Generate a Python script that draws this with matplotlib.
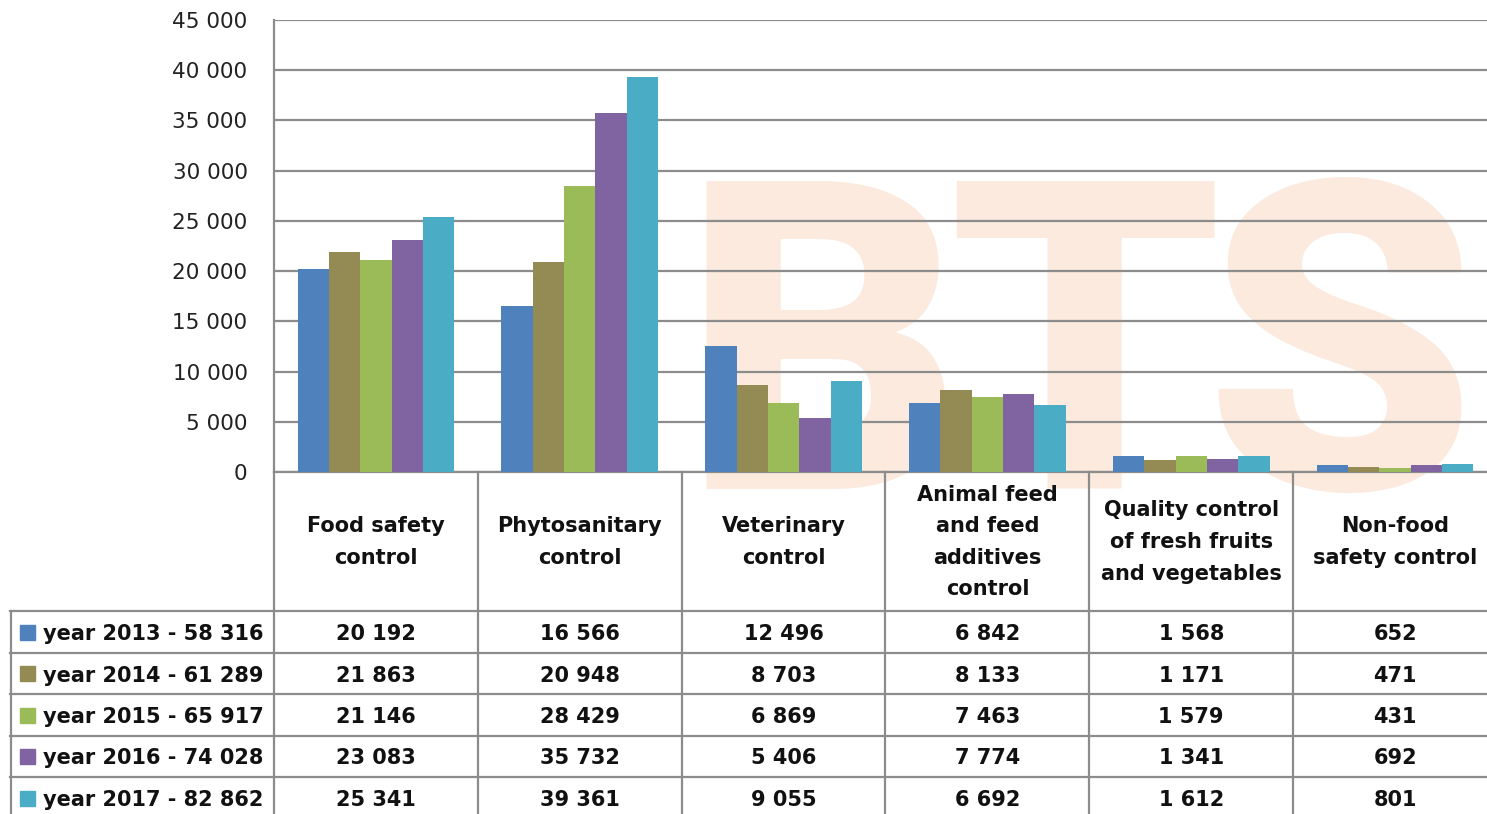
import matplotlib
matplotlib.use("Agg")
import matplotlib.pyplot as plt
from matplotlib.transforms import blended_transform_factory
from matplotlib.patches import Rectangle
from matplotlib.lines import Line2D

categories = ["Food safety\ncontrol", "Phytosanitary\ncontrol", "Veterinary\ncontrol",
              "Animal feed\nand feed\nadditives\ncontrol",
              "Quality control\nof fresh fruits\nand vegetables", "Non-food\nsafety control"]
series_labels = ["year 2013 - 58 316", "year 2014 - 61 289", "year 2015 - 65 917",
                 "year 2016 - 74 028", "year 2017 - 82 862"]
y2013 = [20192, 16566, 12496, 6842, 1568, 652]
y2014 = [21863, 20948, 8703, 8133, 1171, 471]
y2015 = [21146, 28429, 6869, 7463, 1579, 431]
y2016 = [23083, 35732, 5406, 7774, 1341, 692]
y2017 = [25341, 39361, 9055, 6692, 1612, 801]
series = [y2013, y2014, y2015, y2016, y2017]
colors = ["#4F81BD", "#948A54", "#9BBB59", "#8064A2", "#4BACC6"]
yticks = [0, 5000, 10000, 15000, 20000, 25000, 30000, 35000, 40000, 45000]
watermark = ["B", "T", "S"]

W, H = 1487, 814
fig = plt.figure(figsize=(W / 100, H / 100), dpi=100)
fig.patch.set_facecolor("white")

def fx(x):
    return x / W

def fy(y):
    return 1 - y / H

# watermark, one letter at a time
for letter, xc in zip(watermark, [822, 1085, 1340]):
    fig.text(fx(xc), fy(489), letter, fontsize=312, fontweight="black",
             family=["Roboto", "DejaVu Sans"], color="#FBEADD",
             ha="center", va="baseline", zorder=-5)

ax_left, ax_right, ax_top, ax_bot = 274, 1497, 20, 472
ax = fig.add_axes([fx(ax_left), fy(ax_bot), (ax_right - ax_left) / W, (ax_bot - ax_top) / H])
ax.set_facecolor("none")
grid_c = "#8C8C8C"

n = len(series)
w = 1 / 6.5
x = list(range(len(categories)))
for i, (vals, c) in enumerate(zip(series, colors)):
    ax.bar([xi + (i - (n - 1) / 2) * w for xi in x], vals, width=w, color=c,
           edgecolor="none", zorder=3)

ax.set_xlim(-0.5, len(categories) - 0.5)
ax.set_ylim(0, 45000)
ax.set_yticks(yticks)
ax.set_yticklabels([f"{v:,}".replace(",", " ") for v in yticks], fontsize=15.5,
                   family="DejaVu Sans", color="#222222")
ax.set_xticks([])
ax.tick_params(axis="y", length=0, pad=19)
ax.yaxis.grid(True, color=grid_c, linewidth=1.6, zorder=1)
ax.set_axisbelow(True)
for s in ["top", "right"]:
    ax.spines[s].set_visible(False)
for s in ["left", "bottom"]:
    ax.spines[s].set_color(grid_c)
    ax.spines[s].set_linewidth(1.6)

# data table
tb = blended_transform_factory(ax.transData, fig.transFigure)
row_lines = [611, 653, 694, 736, 777, 819]
row_centers = [(row_lines[k] + row_lines[k + 1]) / 2 for k in range(5)]
lw = 1.6
for yl in row_lines:
    fig.add_artist(Line2D([fx(10), fx(1497)], [fy(yl), fy(yl)], color=grid_c, lw=lw,
                          transform=fig.transFigure, clip_on=False))
fig.add_artist(Line2D([fx(10.5), fx(10.5)], [fy(611), fy(819)], color=grid_c, lw=lw,
                      transform=fig.transFigure))
fig.add_artist(Line2D([fx(274), fx(274)], [fy(472), fy(819)], color=grid_c, lw=lw,
                      transform=fig.transFigure))
for k in range(1, len(categories)):
    fig.add_artist(Line2D([k - 0.5, k - 0.5], [fy(472), fy(819)], color=grid_c, lw=lw,
                          transform=tb))

for k, cat in enumerate(categories):
    fig.text(k, fy(542), cat, transform=tb, ha="center", va="center", fontsize=15,
             fontweight="bold", family="DejaVu Sans", color="#111111", linespacing=1.72)

for r, (lab, vals, c) in enumerate(zip(series_labels, series, colors)):
    yc = row_centers[r]
    fig.add_artist(Rectangle((fx(20), fy(yc + 7.5)), 15 / W, 15 / H, color=c,
                             transform=fig.transFigure))
    fig.text(fx(43), fy(yc), lab, ha="left", va="center_baseline", fontsize=15,
             fontweight="bold", family="DejaVu Sans", color="#111111")
    for k, v in enumerate(vals):
        fig.text(k, fy(yc), f"{v:,}".replace(",", " "), transform=tb, ha="center",
                 va="center_baseline", fontsize=15, fontweight="bold",
                 family="DejaVu Sans", color="#111111")

fig.savefig("out.png", dpi=100)
